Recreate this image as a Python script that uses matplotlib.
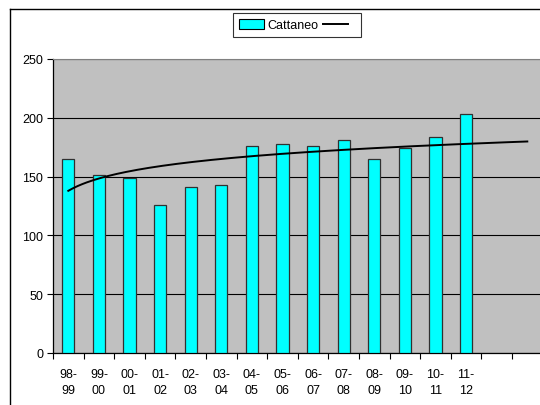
import numpy as np
import matplotlib
matplotlib.use("Agg")
import matplotlib.pyplot as plt
from matplotlib.lines import Line2D
from matplotlib.patches import Patch

plt.rcParams['font.family'] = ['Liberation Sans', 'DejaVu Sans']

categories = ["98-\n99", "99-\n00", "00-\n01", "01-\n02", "02-\n03", "03-\n04", "04-\n05",
              "05-\n06", "06-\n07", "07-\n08", "08-\n09", "09-\n10", "10-\n11", "11-\n12", "", ""]
values = [165, 151, 149, 126, 141, 143, 176, 178, 176, 181, 165, 174, 184, 203]
series_name = "Cattaneo"
yticks = [0, 50, 100, 150, 200, 250]
forecast_periods = 2

W, H = 540, 406
fig = plt.figure(figsize=(W / 100, H / 100), dpi=100)
fig.patch.set_facecolor("white")

left_px, right_px, top_px, bottom_px = 53, 542.6, 60, 354
ax = fig.add_axes([left_px / W, 1 - bottom_px / H, (right_px - left_px) / W, (bottom_px - top_px) / H])
ax.set_facecolor("#C0C0C0")

n_cat = len(categories)
x = np.arange(len(values))
ax.bar(x, values, width=0.4, color="#00FFFF", edgecolor="#303030", linewidth=0.9, zorder=3)

# Logarithmic trendline (Excel style), forecast forward
xs = np.arange(1, len(values) + 1)
b, a = np.polyfit(np.log(xs), np.array(values, dtype=float), 1)
xt = np.linspace(1, len(values) + forecast_periods, 200)
ax.plot(xt - 1, a + b * np.log(xt), color="black", lw=1.4, zorder=4)

ax.set_xlim(-0.5, n_cat - 0.5)
ax.set_ylim(0, 250)
ax.set_yticks(yticks)
ax.yaxis.grid(True, color="black", lw=0.8, zorder=1)
ax.set_axisbelow(True)

ax.set_xticks(np.arange(n_cat))
ax.set_xticklabels(categories, fontsize=9, linespacing=1.45)
ax.set_xticks(np.arange(n_cat + 1) - 0.5, minor=True)
ax.tick_params(axis="x", which="major", length=0, pad=11)
ax.tick_params(axis="x", which="minor", length=4, width=0.8, color="black", direction="out")
ax.tick_params(axis="y", length=4, width=0.8, labelsize=9, pad=3, direction="out")

for s in ["left", "bottom"]:
    ax.spines[s].set_color("black")
    ax.spines[s].set_linewidth(0.9)
ax.spines["top"].set_color("#808080")
ax.spines["right"].set_visible(False)

# outer chart border
fig.add_artist(Line2D([10 / W, 10 / W], [0, 1 - 10 / H], transform=fig.transFigure, color="black", lw=1.0))
fig.add_artist(Line2D([10 / W, 1], [1 - 10 / H, 1 - 10 / H], transform=fig.transFigure, color="black", lw=1.0))

handles = [Patch(facecolor="#00FFFF", edgecolor="black", linewidth=0.8, label=series_name),
           Line2D([], [], color="black", lw=1.4, label=" ")]
leg = fig.legend(handles=handles, loc="center", bbox_to_anchor=((236 + 358) / 2 / W, 1 - 26 / H),
                 ncol=2, fontsize=9, frameon=True, fancybox=False, edgecolor="black",
                 handlelength=2.0, handleheight=0.8, handletextpad=0.3, columnspacing=0.4,
                 borderpad=0.45, borderaxespad=0)
leg.get_frame().set_linewidth(0.8)

fig.savefig("out.png", dpi=100)
